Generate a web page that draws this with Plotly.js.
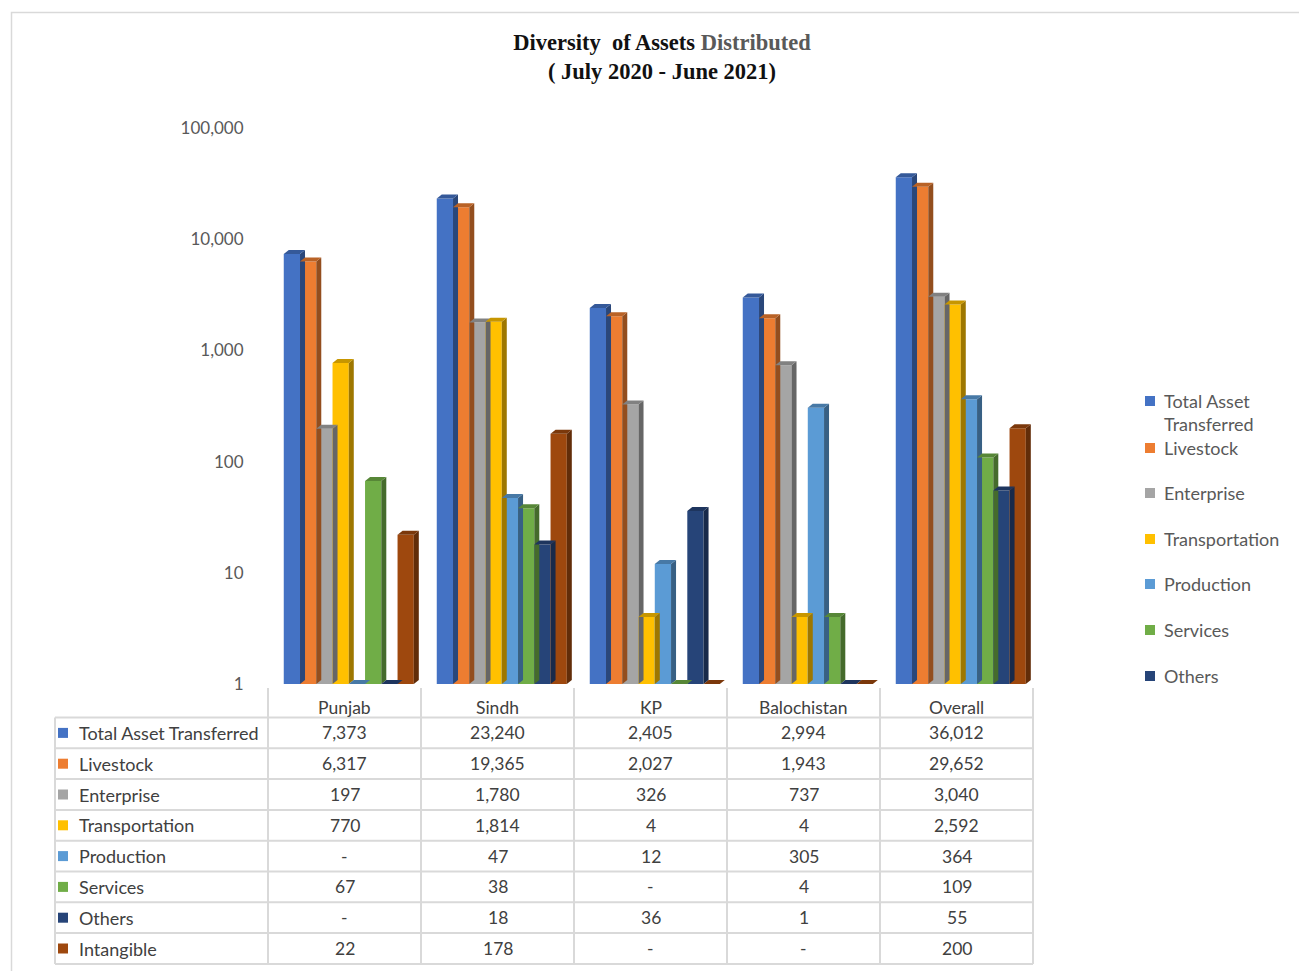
<!DOCTYPE html>
<html>
<head>
<meta charset="utf-8">
<script src="https://cdn.plot.ly/plotly-3.0.1.min.js"></script>
<style>html,body{margin:0;padding:0;background:#fff;}#chart{width:1299px;height:971px;}</style>
</head>
<body>
<div id="chart"></div>
<script>
// ---- data ----
var categories = ['Punjab', 'Sindh', 'KP', 'Balochistan', 'Overall'];
var seriesNames = ['Total Asset Transferred', 'Livestock', 'Enterprise', 'Transportation', 'Production', 'Services', 'Others', 'Intangible'];
var totalAsset     = [7373, 23240, 2405, 2994, 36012];
var livestock      = [6317, 19365, 2027, 1943, 29652];
var enterprise     = [197, 1780, 326, 737, 3040];
var transportation = [770, 1814, 4, 4, 2592];
var production     = [null, 47, 12, 305, 364];
var services       = [67, 38, null, 4, 109];
var others         = [null, 18, 36, 1, 55];
var intangible     = [22, 178, null, null, 200];
var yTickVals = [1, 10, 100, 1000, 10000, 100000];
var yTickText = ['1', '10', '100', '1,000', '10,000', '100,000'];
var legendNames = ['Total Asset<br>Transferred', 'Livestock', 'Enterprise', 'Transportation', 'Production', 'Services', 'Others'];

// ---- styles ----
var seriesValues = [totalAsset, livestock, enterprise, transportation, production, services, others, intangible];
var colors = ['#4472C4', '#ED7D31', '#A5A5A5', '#FFC000', '#5B9BD5', '#70AD47', '#264478', '#9E480E'];
var W = 1299, H = 971;
var mL = 268, mR = 266, mT = 128, mB = 287;
var plotW = W - mL - mR, plotH = H - mT - mB;
var pxPerCat = plotW / categories.length;
var pxPerDec = plotH / 5;
var bargap = 0.15;
var xShift = 0.028;
var depthX = 5 / pxPerCat;           // side depth in x data units
var depthF = Math.pow(10, 4 / pxPerDec); // vertical depth as log factor
var font = 'Lato, "Open Sans", sans-serif';
var grayText = '#595959';
var tableText = '#404040';
var lineCol = '#D9D9D9';

function shade(hex, f) {
  var r = parseInt(hex.substr(1, 2), 16), g = parseInt(hex.substr(3, 2), 16), b = parseInt(hex.substr(5, 2), 16);
  return 'rgb(' + Math.round(r * f) + ',' + Math.round(g * f) + ',' + Math.round(b * f) + ')';
}
// pixel -> paper (paper is the plot area in Plotly)
function px(x) { return (x - mL) / plotW; }
function py(y) { return 1 - (y - mT) / plotH; }
function fmt(v) { return v === null ? '-' : v.toLocaleString('en-US'); }

var xIdx = categories.map(function (c, i) { return i; });
var nS = seriesNames.length;
var barW = (1 - bargap) / nS;

var traces = seriesNames.map(function (name, s) {
  return {
    type: 'bar', name: name, x: xIdx, y: seriesValues[s],
    marker: { color: colors[s], line: { width: 0 } },
    showlegend: false, hoverinfo: 'skip'
  };
});

var shapes = [];
// 3D side faces and caps, positioned from data values
seriesValues.forEach(function (vals, s) {
  vals.forEach(function (v, c) {
    var left = c - (1 - bargap) / 2 + s * barW;
    var right = left + barW;
    var top = (v === null || v < 1) ? 1 : v;
    if (top > 1) {
      shapes.push({
        type: 'path', xref: 'x', yref: 'y', layer: 'above',
        path: 'M' + right + ',1 L' + (right + depthX) + ',' + depthF + ' L' + (right + depthX) + ',' + (top * depthF) + ' L' + right + ',' + top + ' Z',
        fillcolor: shade(colors[s], 0.62), line: { width: 0 }
      });
    }
    shapes.push({
      type: 'path', xref: 'x', yref: 'y', layer: 'above',
      path: 'M' + left + ',' + top + ' L' + (left + depthX) + ',' + (top * depthF) + ' L' + (right + depthX) + ',' + (top * depthF) + ' L' + right + ',' + top + ' Z',
      fillcolor: shade(colors[s], 0.78), line: { width: 0 }
    });
  });
});

// outer border
shapes.push({ type: 'rect', xref: 'paper', yref: 'paper', x0: px(11.5), x1: px(1320), y0: py(12.5), y1: py(1000),
  line: { color: lineCol, width: 1.5 }, fillcolor: 'rgba(0,0,0,0)', layer: 'below' });

// table grid
var tblLeft = 55, tblRight = mL + plotW, tblTop = 717.5, rowH = 30.8, tblHeadTop = 688;
var tblBottom = tblTop + rowH * nS;
for (var r = 0; r <= nS; r++) {
  var yy = tblTop + r * rowH;
  shapes.push({ type: 'line', xref: 'paper', yref: 'paper', x0: px(tblLeft), x1: px(tblRight), y0: py(yy), y1: py(yy), line: { color: lineCol, width: 2 } });
}
shapes.push({ type: 'line', xref: 'paper', yref: 'paper', x0: px(tblLeft), x1: px(tblLeft), y0: py(tblTop), y1: py(tblBottom), line: { color: lineCol, width: 2 } });
for (var c = 0; c <= categories.length; c++) {
  var xx = mL + c * pxPerCat;
  shapes.push({ type: 'line', xref: 'paper', yref: 'paper', x0: px(xx), x1: px(xx), y0: py(tblHeadTop), y1: py(tblBottom), line: { color: lineCol, width: 2 } });
}

var annotations = [];
// header row
categories.forEach(function (cat, c) {
  annotations.push({ xref: 'paper', yref: 'paper', x: px(mL + (c + 0.5) * pxPerCat), y: py(707), text: cat, showarrow: false,
    xanchor: 'center', yanchor: 'middle', font: { family: font, size: 17.5, color: tableText } });
});
// table rows
seriesNames.forEach(function (name, s) {
  var yc = tblTop + (s + 0.5) * rowH;
  shapes.push({ type: 'rect', xref: 'paper', yref: 'paper', x0: px(58), x1: px(68), y0: py(yc - 5), y1: py(yc + 5), fillcolor: colors[s], line: { width: 0 } });
  annotations.push({ xref: 'paper', yref: 'paper', x: px(77), y: py(yc), text: name, showarrow: false,
    xanchor: 'left', yanchor: 'middle', font: { family: font, size: 18, color: tableText } });
  seriesValues[s].forEach(function (v, c) {
    annotations.push({ xref: 'paper', yref: 'paper', x: px(mL + (c + 0.5) * pxPerCat), y: py(yc), text: fmt(v), showarrow: false,
      xanchor: 'center', yanchor: 'middle', font: { family: font, size: 17.5, color: tableText } });
  });
});
// legend (right)
var legY = [400, 447, 492, 538, 583, 629, 675];
legendNames.forEach(function (name, s) {
  shapes.push({ type: 'rect', xref: 'paper', yref: 'paper', x0: px(1145), x1: px(1155), y0: py(legY[s] + 6), y1: py(legY[s] - 4), fillcolor: colors[s], line: { width: 0 } });
  annotations.push({ xref: 'paper', yref: 'paper', x: px(1162), y: py(legY[s] - 12), text: name, showarrow: false,
    xanchor: 'left', yanchor: 'top', align: 'left', font: { family: font, size: 18, color: grayText } });
});

var layout = {
  width: W, height: H,
  margin: { l: mL, r: mR, t: mT, b: mB },
  paper_bgcolor: '#ffffff', plot_bgcolor: '#ffffff',
  showlegend: false,
  barmode: 'group', bargap: bargap, bargroupgap: 0,
  title: {
    text: '<b>Diversity  of Assets <span style="color:#595959">Distributed</span></b><br><b>( July 2020 - June 2021)</b>',
    x: 662 / W, xanchor: 'center', y: 1 - 50 / H, yanchor: 'middle',
    font: { family: '"Liberation Serif", "Times New Roman", serif', size: 22.5, color: '#111111' }
  },
  xaxis: {
    type: 'linear', range: [-0.5 - xShift, 4.5 - xShift], showticklabels: false, showgrid: false, zeroline: false,
    showline: false, ticks: '', fixedrange: true
  },
  yaxis: {
    type: 'log', range: [0, 5], tickvals: yTickVals, ticktext: yTickText, showgrid: false, zeroline: false, showline: false,
    ticks: 'outside', ticklen: 20, tickcolor: 'rgba(0,0,0,0)',
    tickfont: { family: font, size: 17, color: grayText }, fixedrange: true
  },
  shapes: shapes,
  annotations: annotations
};

Plotly.newPlot('chart', traces, layout, { staticPlot: true, displayModeBar: false });
</script>
</body>
</html>
